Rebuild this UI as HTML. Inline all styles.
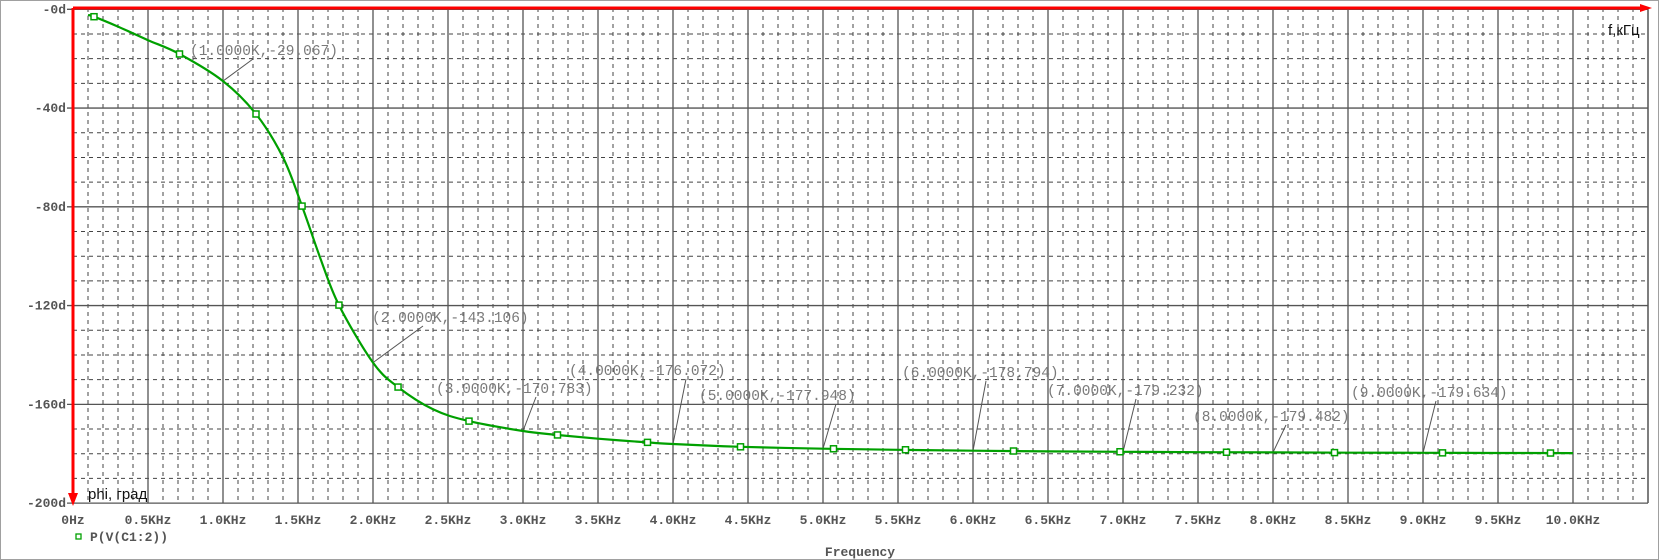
<!DOCTYPE html>
<html><head><meta charset="utf-8"><style>
html,body{margin:0;padding:0;background:#fff;}
svg{display:block;}
.mono{font-family:"Liberation Mono",monospace;}
.sans{font-family:"Liberation Sans",sans-serif;}
</style></head><body>
<svg id="chart" width="1659" height="560" xmlns="http://www.w3.org/2000/svg"></svg>
<script>
const freqs=[0.1,0.14,0.3,0.5,0.71,1.0,1.22,1.4,1.527,1.65,1.773,2.0,2.167,2.4,2.64,3.0,3.23,3.5,3.83,4.0,4.45,5.0,5.5,6.0,6.5,7.0,7.5,8.0,8.5,9.0,9.5,10.0];
const phases=[-2.3,-3,-7,-12.5,-18.1,-29.07,-42.4,-60,-79.7,-101,-119.8,-143.1,-153,-162,-166.8,-170.78,-172.4,-173.9,-175.4,-176.07,-177.2,-177.95,-178.4,-178.79,-179.05,-179.23,-179.37,-179.48,-179.57,-179.63,-179.69,-179.74];
const markerFreqs=[0.14,0.71,1.22,1.527,1.773,2.167,2.64,3.23,3.83,4.45,5.07,5.55,6.27,6.98,7.69,8.41,9.13,9.85];
const markerPhases=[-3,-18.1,-42.4,-79.7,-119.8,-153,-166.8,-172.4,-175.4,-177.2,-178.0,-178.4,-178.9,-179.2,-179.4,-179.55,-179.65,-179.72];
const annFreqs=[1,2,3,4,5,6,7,8,9];
const annTexts=["(1.0000K,-29.067)","(2.0000K,-143.106)","(3.0000K,-170.783)","(4.0000K,-176.072)","(5.0000K,-177.948)","(6.0000K,-178.794)","(7.0000K,-179.232)","(8.0000K,-179.482)","(9.0000K,-179.634)"];
const annPhases=[-29.067,-143.106,-170.783,-176.072,-177.948,-178.794,-179.232,-179.482,-179.634];
const xTickVals=[0,0.5,1,1.5,2,2.5,3,3.5,4,4.5,5,5.5,6,6.5,7,7.5,8,8.5,9,9.5,10];
const xTickLabels=["0Hz","0.5KHz","1.0KHz","1.5KHz","2.0KHz","2.5KHz","3.0KHz","3.5KHz","4.0KHz","4.5KHz","5.0KHz","5.5KHz","6.0KHz","6.5KHz","7.0KHz","7.5KHz","8.0KHz","8.5KHz","9.0KHz","9.5KHz","10.0KHz"];
const yTickVals=[0,-40,-80,-120,-160,-200];
const yTickLabels=["-0d","-40d","-80d","-120d","-160d","-200d"];

const NS="http://www.w3.org/2000/svg";
const svg=document.getElementById('chart');
const X0=73,XS=150,Y0=9.3,YS=2.469,XR=1648,YB=503;
const xs=f=>X0+f*XS, ys=p=>Y0-p*YS;
function el(tag,attrs,parent){const e=document.createElementNS(NS,tag);for(const k in attrs)e.setAttribute(k,attrs[k]);(parent||svg).appendChild(e);return e;}

const border=el('rect',{x:0.5,y:0.5,width:1658,height:559,fill:'none',stroke:'#a0a0a0'});



const grid=el('g',{});


for(let i=1;i<=104;i++){if(i%5===0)continue;const x=X0+i*15;el('line',{x1:x,y1:8,x2:x,y2:YB,stroke:'#444','stroke-dasharray':'4,4','stroke-width':1},grid);}
for(let d=-10;d>-200;d-=10){if(d%40===0)continue;const y=ys(d);el('line',{x1:X0,y1:y,x2:XR,y2:y,stroke:'#444','stroke-dasharray':'4,4','stroke-width':1},grid);}
for(let i=1;i<=21;i++){const x=X0+i*75;el('line',{x1:x,y1:8,x2:x,y2:YB,stroke:'#555','stroke-width':1.3},grid);}
yTickVals.forEach(v=>{const y=ys(v);el('line',{x1:X0-6,y1:y,x2:XR,y2:y,stroke:'#555','stroke-width':1.3},grid);});

const xl=el('g',{class:'mono','font-weight':'bold','font-size':'13',fill:'#555','text-anchor':'middle'});


xTickVals.forEach((v,i)=>{const t=el('text',{x:xs(v),y:524},xl);t.textContent=xTickLabels[i];});
const yl=el('g',{class:'mono','font-weight':'bold','font-size':'13',fill:'#555','text-anchor':'end'});


yTickVals.forEach((v,i)=>{const t=el('text',{x:66,y:ys(v)+4},yl);t.textContent=yTickLabels[i];});

const ann=el('g',{class:'mono','font-size':'14.5',fill:'#7a7a7a'});


const annPos=[[190,55],[372,322],[436,393],[569,375],[699,400],[902,377],[1047,395],[1193,421],[1351,397]];
annFreqs.forEach((f,i)=>{const cx=xs(f),cy=ys(annPhases[i]);const [tx,ty]=annPos[i];
  el('line',{x1:cx,y1:cy,x2:i===0?cx+30:cx+(i===1?50:13),y2:ty+4,stroke:'#555','stroke-width':1},ann);
  const t=el('text',{x:tx,y:ty},ann);t.textContent=annTexts[i];});

const P=freqs.map((f,i)=>[xs(f),ys(phases[i])]);
let d='M'+P[0][0].toFixed(1)+','+P[0][1].toFixed(1);
for(let i=0;i<P.length-1;i++){
  const p0=P[Math.max(0,i-1)],p1=P[i],p2=P[i+1],p3=P[Math.min(P.length-1,i+2)];
  const c1=[p1[0]+(p2[0]-p0[0])/6,p1[1]+(p2[1]-p0[1])/6];
  const c2=[p2[0]-(p3[0]-p1[0])/6,p2[1]-(p3[1]-p1[1])/6];
  d+=` C${c1[0].toFixed(1)},${c1[1].toFixed(1)} ${c2[0].toFixed(1)},${c2[1].toFixed(1)} ${p2[0].toFixed(1)},${p2[1].toFixed(1)}`;
}
const line=el('path',{d:d,fill:'none',stroke:'#00a000','stroke-width':2.2,'stroke-linejoin':'round'});


const mg=el('g',{fill:'#fff',stroke:'#00a000','stroke-width':1.5});


markerFreqs.forEach((f,i)=>{el('rect',{x:xs(f)-3,y:ys(markerPhases[i])-3,width:6,height:6},mg);});

const ax=el('g',{stroke:'#ff0000','stroke-width':3,fill:'#ff0000'});


el('line',{x1:X0,y1:8,x2:X0,y2:YB-6},ax);
el('polygon',{points:`${X0-5},${YB-10} ${X0+5},${YB-10} ${X0},${YB+3}`,stroke:'none'},ax);
el('line',{x1:X0,y1:8,x2:1642,y2:8},ax);
el('polygon',{points:`1640,4 1640,12 1652,8`,stroke:'none'},ax);
el('line',{x1:XR,y1:10,x2:XR,y2:YB,stroke:'#555','stroke-width':1.3});

const phi=el('text',{x:88,y:499,class:'sans','font-size':'15',fill:'#111'});phi.textContent='phi, град';


const fk=el('text',{x:1608,y:35,class:'sans','font-size':'15',fill:'#111'});fk.textContent='f,кГц';



const lg=el('g',{});


el('rect',{x:76,y:534,width:5,height:5,fill:'#fff',stroke:'#00a000','stroke-width':1.3},lg);
const lt=el('text',{x:90,y:541,class:'mono','font-weight':'bold','font-size':'13',fill:'#555'},lg);lt.textContent='P(V(C1:2))';
const ft=el('text',{x:860,y:556,class:'mono','font-weight':'bold','font-size':'13',fill:'#555','text-anchor':'middle'});ft.textContent='Frequency';


</script>
</body></html>
